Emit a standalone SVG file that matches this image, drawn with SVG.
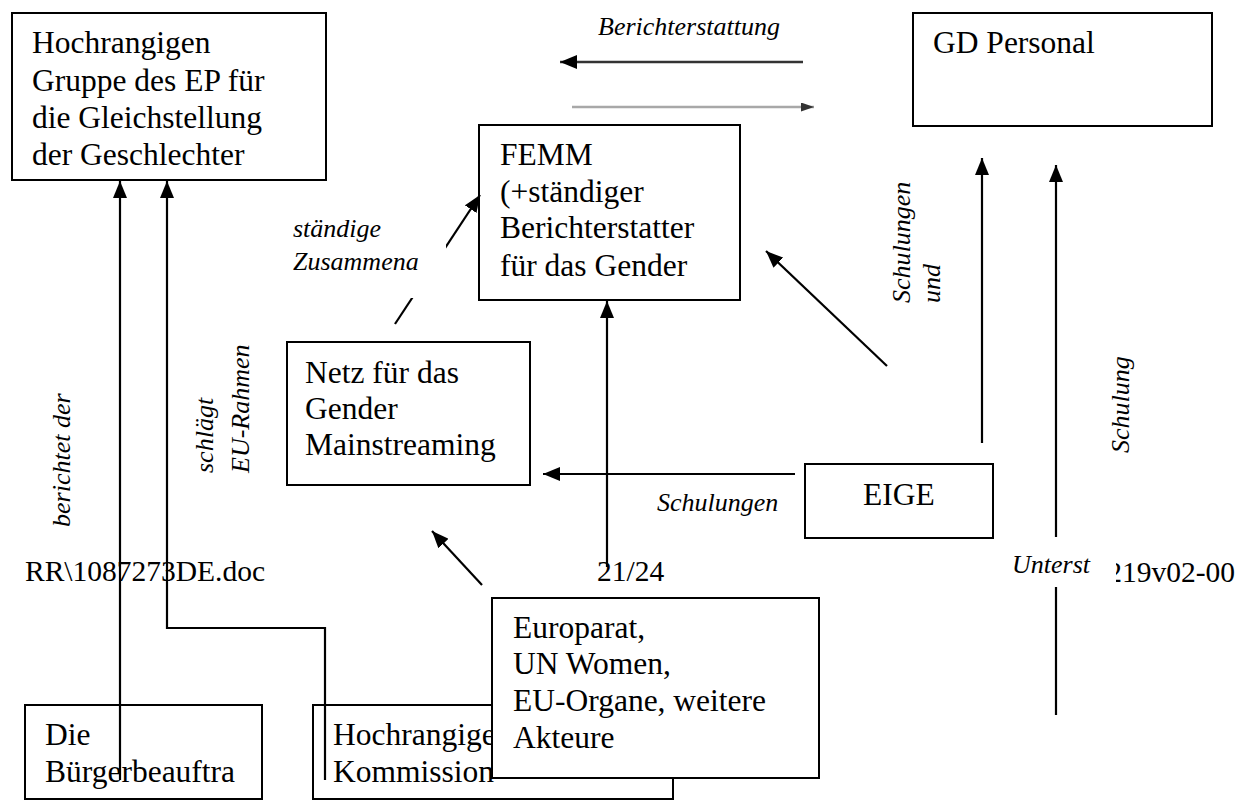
<svg xmlns="http://www.w3.org/2000/svg" width="1239" height="801" viewBox="0 0 1239 801">
<defs>
<marker id="ah" markerUnits="userSpaceOnUse" markerWidth="17" markerHeight="14" refX="17" refY="7" orient="auto"><path d="M0,0 L17,7 L0,14 z" fill="#000"/></marker>
<marker id="ahs" markerUnits="userSpaceOnUse" markerWidth="13" markerHeight="9" refX="13" refY="4.5" orient="auto"><path d="M0,0 L13,4.5 L0,9 z" fill="#333"/></marker>
<style>
.box{fill:#fff;stroke:#000;stroke-width:2}
.t{font-family:"Liberation Serif","Times New Roman",serif;font-size:31.5px;fill:#000}
.ft{font-family:"Liberation Serif","Times New Roman",serif;font-size:29.5px;fill:#000}
.lb{font-family:"Liberation Serif","Times New Roman",serif;font-size:26px;font-style:italic;fill:#000}
.c{fill:none;stroke:#000;stroke-width:2.2}
.wb{fill:#fff;stroke:none}
</style>
</defs>
<rect width="1239" height="801" fill="#fff"/>

<g id="footer">
<text class="ft" x="25" y="581">RR\1087273DE.doc</text>
<text class="ft" x="597" y="581">21/24</text>
<text class="ft" x="1235" y="582" text-anchor="end">219v02-00</text>
</g>

<g id="node-ep-group">
<rect class="box" x="12" y="13" width="314" height="167"/>
<text class="t" x="32" y="53">Hochrangigen</text>
<text class="t" x="32" y="91">Gruppe des EP für</text>
<text class="t" x="32" y="128">die Gleichstellung</text>
<text class="t" x="32" y="165">der Geschlechter</text>
</g>

<g id="node-gd-personal">
<rect class="box" x="913" y="13" width="299" height="113"/>
<text class="t" x="933" y="53">GD Personal</text>
</g>

<g id="node-femm">
<rect class="box" x="479" y="125" width="261" height="175"/>
<text class="t" x="500" y="165">FEMM</text>
<text class="t" x="500" y="202">(+ständiger</text>
<text class="t" x="500" y="238">Berichterstatter</text>
<text class="t" x="500" y="276">für das Gender</text>
</g>

<g id="node-netz">
<rect class="box" x="287" y="342" width="243" height="143"/>
<text class="t" x="305" y="383">Netz für das</text>
<text class="t" x="305" y="419">Gender</text>
<text class="t" x="305" y="455">Mainstreaming</text>
</g>

<g id="node-eige">
<rect class="box" x="805" y="464" width="188" height="74"/>
<text class="t" x="863" y="505">EIGE</text>
</g>

<g id="node-buergerbeauftragte">
<rect class="box" x="25" y="705" width="237" height="94"/>
<text class="t" x="45" y="745">Die</text>
<text class="t" x="45" y="782">Bürgerbeauftra</text>
</g>

<g id="node-kommission">
<rect class="box" x="313" y="705" width="360" height="94"/>
<text class="t" x="333" y="745">Hochrangige</text>
<text class="t" x="333" y="782">Kommission</text>
</g>

<g id="node-europarat">
<rect class="box" x="492" y="598" width="327" height="180"/>
<text class="t" x="513" y="638">Europarat,</text>
<text class="t" x="513" y="674">UN Women,</text>
<text class="t" x="513" y="711">EU-Organe, weitere</text>
<text class="t" x="513" y="748">Akteure</text>
</g>

<g id="connectors">
<line x1="803" y1="62" x2="560" y2="62" stroke="#333" stroke-width="2.4" marker-end="url(#ah)"/>
<line x1="572" y1="107" x2="814" y2="107" stroke="#a8a8a8" stroke-width="2.6" marker-end="url(#ahs)"/>
<line class="c" x1="120" y1="780" x2="120" y2="181" marker-end="url(#ah)"/>
<path class="c" d="M325,780 V628 H167 V181" marker-end="url(#ah)"/>
<line class="c" x1="395" y1="324" x2="480" y2="195" marker-end="url(#ah)"/>
<line class="c" x1="607" y1="567" x2="607" y2="301" marker-end="url(#ah)"/>
<line class="c" x1="795" y1="474" x2="543" y2="474" marker-end="url(#ah)"/>
<line class="c" x1="887" y1="366" x2="766" y2="251" marker-end="url(#ah)"/>
<line class="c" x1="982" y1="443" x2="982" y2="158" marker-end="url(#ah)"/>
<line class="c" x1="1056" y1="715" x2="1056" y2="165" marker-end="url(#ah)"/>
<line class="c" x1="482" y1="585" x2="432" y2="531" marker-end="url(#ah)"/>
</g>

<g id="labels">
<text class="lb" x="598" y="35">Berichterstattung</text>
<rect class="wb" x="286" y="205" width="160" height="93"/>
<text class="lb" x="293" y="237">ständige</text>
<text class="lb" x="293" y="270">Zusammena</text>
<text class="lb" transform="translate(70,527) rotate(-90)">berichtet der</text>
<text class="lb" transform="translate(213,473) rotate(-90)">schlägt</text>
<text class="lb" transform="translate(249,473) rotate(-90)">EU-Rahmen</text>
<text class="lb" x="657" y="511">Schulungen</text>
<text class="lb" transform="translate(910,303) rotate(-90)">Schulungen</text>
<text class="lb" transform="translate(940,303) rotate(-90)">und</text>
<text class="lb" transform="translate(1129,453) rotate(-90)">Schulung</text>
<rect class="wb" x="1000" y="537" width="116" height="50"/>
<text class="lb" x="1012" y="573">Unterst</text>
</g>
</svg>
